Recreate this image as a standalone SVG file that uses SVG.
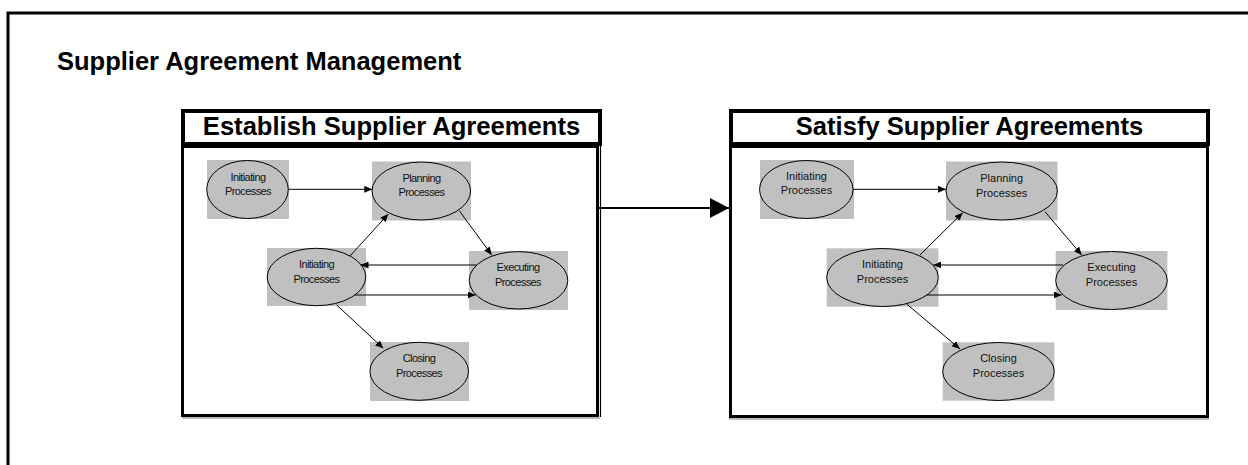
<svg xmlns="http://www.w3.org/2000/svg" width="1248" height="465" viewBox="0 0 1248 465">
  <style>
    .frame { fill: none; stroke: #000; stroke-width: 3; }
    .hdr { fill: #fff; stroke: #000; stroke-width: 4; }
    .body { fill: #fff; stroke: #000; stroke-width: 3; }
    .title { font-family: "Liberation Sans", Arial, sans-serif; font-weight: bold; font-size: 25.5px; fill: #000; }
    .htext { font-family: "Liberation Sans", Arial, sans-serif; font-weight: bold; font-size: 25.6px; fill: #000; text-anchor: middle; }
    .bg { fill: #c0c0c0; }
    .oval { fill: #c0c0c0; stroke: #000; stroke-width: 1; }
    .lbl { font-family: "Liberation Sans", Arial, sans-serif; font-size: 11px; fill: #111; text-anchor: middle; }
    .narrow { letter-spacing: -0.6px; }
    .edge { fill: none; stroke: #000; stroke-width: 1; marker-end: url(#tip); }
    .link { fill: none; stroke: #000; stroke-width: 2; marker-end: url(#bigtip); }
  </style>
  <defs>
    <marker id="tip" markerUnits="userSpaceOnUse" markerWidth="8" markerHeight="7" refX="8" refY="3.5" orient="auto">
      <path d="M0,0 L8,3.5 L0,7 z" fill="#000"/>
    </marker>
    <marker id="bigtip" markerUnits="userSpaceOnUse" markerWidth="19" markerHeight="20" refX="19" refY="10" orient="auto">
      <path d="M0,0 L19,10 L0,20 z" fill="#000"/>
    </marker>
  </defs>

  <rect width="1248" height="465" fill="#fff"/>

  <!-- outer frame, open to the right and bottom -->
  <path class="frame" d="M8,465 V13 H1248"/>
  <text class="title" x="57" y="70">Supplier Agreement Management</text>

  <!-- Establish Supplier Agreements -->
  <g id="establish">
    <line x1="182" y1="418" x2="600" y2="418" stroke="#777" stroke-width="1"/>
    <rect class="body" x="182.5" y="146.5" width="415" height="269"/>
    <line x1="600.5" y1="146" x2="600.5" y2="417" stroke="#000" stroke-width="1.2"/>
    <rect class="hdr" x="183" y="111" width="417" height="33"/>
    <text class="htext" x="391.5" y="135">Establish Supplier Agreements</text>
  </g>

  <g id="e-init1">
    <rect class="bg" x="207" y="160" width="82" height="59"/>
    <ellipse class="oval" cx="247.5" cy="189.5" rx="40.8" ry="29"/>
    <text class="lbl narrow" x="248" y="180.5">Initiating</text>
    <text class="lbl narrow" x="248" y="195">Processes</text>
  </g>
  <g id="e-plan">
    <rect class="bg" x="372" y="161.5" width="99" height="59"/>
    <ellipse class="oval" cx="421.3" cy="191" rx="49.3" ry="29"/>
    <text class="lbl narrow" x="421.5" y="181.5">Planning</text>
    <text class="lbl narrow" x="421.5" y="196">Processes</text>
  </g>
  <g id="e-init2">
    <rect class="bg" x="267" y="248" width="99" height="58"/>
    <ellipse class="oval" cx="316.5" cy="277" rx="49.3" ry="28.7"/>
    <text class="lbl narrow" x="316.5" y="268.3">Initiating</text>
    <text class="lbl narrow" x="316.5" y="283">Processes</text>
  </g>
  <g id="e-exec">
    <rect class="bg" x="469" y="251" width="99" height="59"/>
    <ellipse class="oval" cx="518.5" cy="280.3" rx="49.3" ry="28.7"/>
    <text class="lbl narrow" x="518" y="271">Executing</text>
    <text class="lbl narrow" x="518" y="285.7">Processes</text>
  </g>
  <g id="e-close">
    <rect class="bg" x="370" y="342" width="99" height="59"/>
    <ellipse class="oval" cx="419.2" cy="371.3" rx="49.3" ry="29"/>
    <text class="lbl narrow" x="419" y="361.7">Closing</text>
    <text class="lbl narrow" x="419" y="376.5">Processes</text>
  </g>

  <!-- Satisfy Supplier Agreements -->
  <g id="satisfy">
    <line x1="729" y1="419" x2="1209" y2="419" stroke="#777" stroke-width="1"/>
    <rect class="body" x="730.5" y="146.5" width="477" height="270"/>
    <rect class="hdr" x="731" y="111" width="477" height="33"/>
    <text class="htext" x="969.5" y="135">Satisfy Supplier Agreements</text>
  </g>

  <g id="s-init1">
    <rect class="bg" x="760" y="160" width="94" height="59"/>
    <ellipse class="oval" cx="806.3" cy="189.5" rx="46.8" ry="29"/>
    <text class="lbl" x="806.5" y="179.5">Initiating</text>
    <text class="lbl" x="806.5" y="194.3">Processes</text>
  </g>
  <g id="s-plan">
    <rect class="bg" x="946" y="161.5" width="111.5" height="59"/>
    <ellipse class="oval" cx="1001.7" cy="191" rx="55.7" ry="29"/>
    <text class="lbl" x="1001.7" y="182.3">Planning</text>
    <text class="lbl" x="1001.7" y="196.5">Processes</text>
  </g>
  <g id="s-init2">
    <rect class="bg" x="826.7" y="248.3" width="111.7" height="58.4"/>
    <ellipse class="oval" cx="882.5" cy="277.5" rx="55.8" ry="29"/>
    <text class="lbl" x="882.5" y="268.3">Initiating</text>
    <text class="lbl" x="882.5" y="283.3">Processes</text>
  </g>
  <g id="s-exec">
    <rect class="bg" x="1055.7" y="251" width="111.7" height="59"/>
    <ellipse class="oval" cx="1111.5" cy="280.5" rx="55.8" ry="29"/>
    <text class="lbl" x="1111.5" y="271">Executing</text>
    <text class="lbl" x="1111.5" y="286">Processes</text>
  </g>
  <g id="s-close">
    <rect class="bg" x="942.7" y="342.3" width="111.7" height="58.4"/>
    <ellipse class="oval" cx="998.5" cy="371.5" rx="55.8" ry="29"/>
    <text class="lbl" x="998.5" y="361.7">Closing</text>
    <text class="lbl" x="998.5" y="376.7">Processes</text>
  </g>

  <g id="connectors">
    <!-- between the two phases -->
    <line class="link" x1="597" y1="208" x2="729" y2="208"/>
    <!-- establish flow -->
    <line class="edge" x1="288.5" y1="189.3" x2="372.3" y2="189.3"/>
    <line class="edge" x1="350" y1="256" x2="388.3" y2="214"/>
    <line class="edge" x1="459.3" y1="210.7" x2="491.7" y2="255"/>
    <line class="edge" x1="476.7" y1="265" x2="360.5" y2="265"/>
    <line class="edge" x1="354.7" y1="295" x2="475.5" y2="295"/>
    <line class="edge" x1="336.7" y1="305" x2="383.3" y2="348.3"/>
    <!-- satisfy flow -->
    <line class="edge" x1="853" y1="189.3" x2="946" y2="189.3"/>
    <line class="edge" x1="920" y1="255" x2="962.7" y2="212.7"/>
    <line class="edge" x1="1045" y1="211.7" x2="1081.7" y2="255"/>
    <line class="edge" x1="1063" y1="265" x2="933.3" y2="265"/>
    <line class="edge" x1="926.7" y1="295" x2="1061.7" y2="295"/>
    <line class="edge" x1="906.7" y1="304" x2="960" y2="349"/>
  </g>
</svg>
